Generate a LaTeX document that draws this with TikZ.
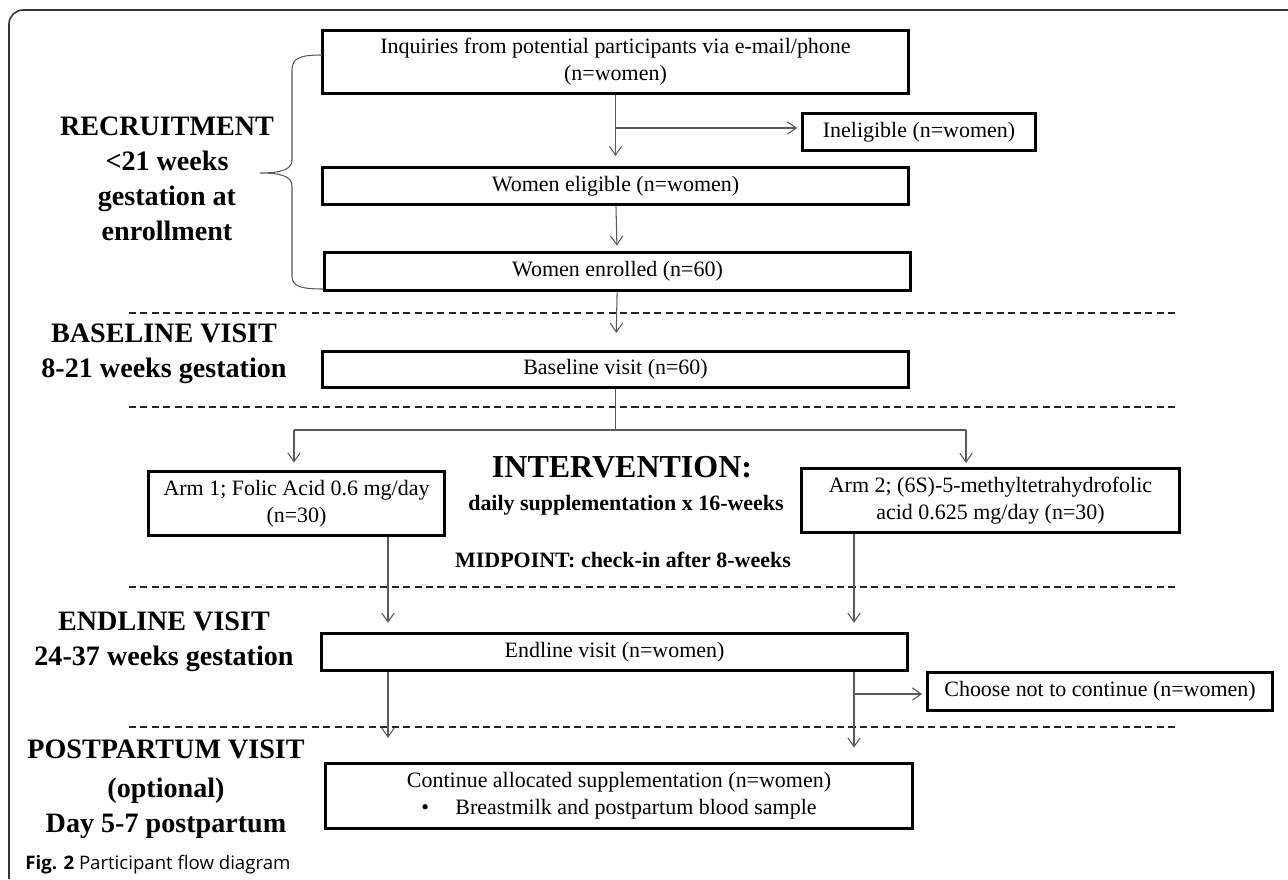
\documentclass[tikz,border=0pt]{standalone}
\usepackage{fontspec}
\setmainfont{Liberation Serif}
\newfontfamily\capfont{Open Sans}
\usetikzlibrary{arrows.meta}

\newcommand{\bodyfont}{\fontsize{12.5}{15.4}\selectfont}
\newcommand{\stagefont}{\bfseries\fontsize{16}{19.9}\selectfont}

\tikzset{
  box/.style={draw, line width=2.2pt, inner sep=0pt, align=center, font=\bodyfont},
  arr/.style={draw=black!65, line width=0.6pt, -{Straight Barb[length=5pt,width=7pt]}},
  link/.style={draw=black!65, line width=0.6pt},
  sep/.style={draw=black!85, line width=0.8pt, dash pattern=on 4pt off 2.5pt},
  stage/.style={font=\stagefont, align=center},
}

\begin{document}
\begin{tikzpicture}[x=0.02cm, y=-0.02cm]
  \useasboundingbox (0,0) rectangle (1288,879);
  \draw[black!80, line width=0.9pt, rounded corners=8pt] (9,879) -- (9,10) -- (1288,10);

  % phase separators
  \foreach \y in {313,407,587,727} {
    \draw[sep] (129,\y) -- (1179,\y);
  }

  % phase labels
  \node[stage] (recruit) at (167,179) {RECRUITMENT\\<21 weeks\\gestation at\\enrollment};
  \node[stage] (baseline) at (164,354) {BASELINE VISIT\\8-21 weeks gestation};
  \node[stage] (endline) at (164,642) {ENDLINE VISIT\\24-37 weeks gestation};
  \node[stage] (postpartum) at (166,789) {POSTPARTUM VISIT\\[2pt](optional)\\Day 5-7 postpartum};

  % boxes
  \node[box, minimum width=11.72cm, minimum height=1.26cm] (inq) at (615.5,62)
    {Inquiries from potential participants via e-mail/phone\\(n=women)};
  \node[box, minimum width=4.66cm, minimum height=0.74cm] (inel) at (919,132) {Ineligible (n=women)};
  \node[box, minimum width=11.72cm, minimum height=0.74cm] (elig) at (615.5,186) {Women eligible (n=women)};
  \node[box, minimum width=11.72cm, minimum height=0.76cm] (enrol) at (617.5,271.5) {Women enrolled (n=60)};
  \node[box, minimum width=11.72cm, minimum height=0.72cm] (base) at (615.5,369.5) {Baseline visit (n=60)};
  \node[box, minimum width=5.92cm, minimum height=1.28cm] (arm1) at (296.5,503.5)
    {Arm 1; Folic Acid 0.6 mg/day\\(n=30)};
  \node[box, minimum width=7.56cm, minimum height=1.28cm] (arm2) at (990.5,500.5)
    {Arm 2; (6S)-5-methyltetrahydrofolic\\acid 0.625 mg/day (n=30)};
  \node[box, minimum width=11.72cm, minimum height=0.74cm] (endl) at (614.5,652) {Endline visit (n=women)};
  \node[box, minimum width=6.9cm, minimum height=0.76cm] (stop) at (1100,691.5) {Choose not to continue (n=women)};
  \node[box, minimum width=11.74cm, minimum height=1.30cm] (cont) at (619,796)
    {Continue allocated supplementation (n=women)\\\textbullet\hspace{1.2em}Breastmilk and postpartum blood sample};

  % intervention text
  \node[font=\bfseries\fontsize{18.2}{21}\selectfont] (interv) at (622,467) {INTERVENTION:};
  \node[font=\bfseries\bodyfont] (daily) at (626,505) {daily supplementation x 16-weeks};
  \node[font=\bfseries\bodyfont] (midpoint) at (623,560) {MIDPOINT: check-in after 8-weeks};

  % brace
  \draw[link] (322,55) .. controls (300,55) and (292,58) .. (292,70) -- (292,160)
    .. controls (292,170) and (280,173) .. (260,173)
    .. controls (280,173) and (292,176) .. (292,186) -- (292,276)
    .. controls (292,286) and (300,289) .. (323,289);

  % connectors
  \coordinate (inqsplit) at (616,128);
  \coordinate (armsplit) at (615.5,430);
  \coordinate (armL) at (294,430);
  \coordinate (armR) at (966,430);
  \coordinate (leftrail) at (388,0);
  \coordinate (rightrail) at (854,0);
  \coordinate (stopsplit) at (854,694);

  \draw[arr, shorten >=5.5pt] (inq) -- (elig);
  \draw[arr, shorten >=2pt] (inqsplit) -- (inqsplit -| inel.west);
  \draw[arr, shorten >=2.8pt] (elig) -- (enrol);
  \draw[arr, shorten >=9.5pt] (enrol) -- (base);
  \draw[link] (base) -- (armsplit);
  \draw[link] (armL) -- (armR);
  \draw[arr, shorten >=4pt] (armL) -- (armL |- arm1.north);
  \draw[arr, shorten >=2pt] (armR) -- (armR |- arm2.north);
  \draw[arr, shorten >=5pt] (arm1.south -| leftrail) -- (endl.north -| leftrail);
  \draw[arr, shorten >=5pt] (arm2.south -| rightrail) -- (endl.north -| rightrail);
  \draw[arr, shorten >=13.5pt] (endl.south -| leftrail) -- (cont.north -| leftrail);
  \draw[arr, shorten >=8pt] (endl.south -| rightrail) -- (cont.north -| rightrail);
  \draw[arr, shorten >=2pt] (stopsplit) -- (stopsplit -| stop.west);

  % caption
  \node[anchor=west, inner sep=0pt, font=\capfont\fontsize{10.6}{12.5}\selectfont] (caption) at (25,865)
    {\textbf{Fig. 2} Participant flow diagram};
\end{tikzpicture}
\end{document}
